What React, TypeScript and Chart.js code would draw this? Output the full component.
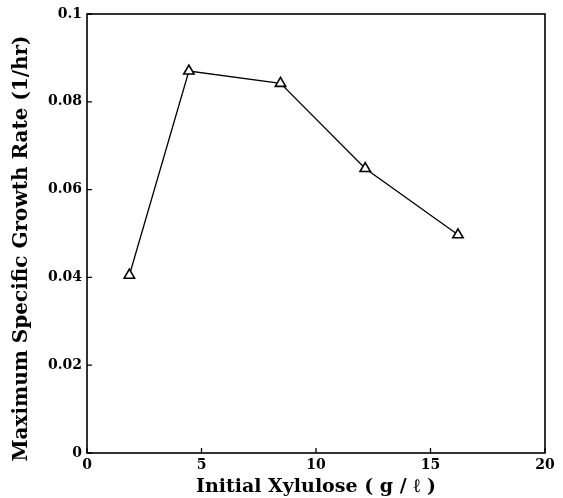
import React, { useEffect, useRef } from "react";
import { Chart, registerables } from "chart.js";

Chart.register(...registerables);

const xylulose = [1.85, 4.45, 8.45, 12.15, 16.2];
const growthRate = [0.0405, 0.087, 0.0842, 0.0648, 0.0497];
const xTickValues = [0, 5, 10, 15, 20];
const yTickValues = [0, 0.02, 0.04, 0.06, 0.08, 0.1];
const yTickLabels = ["0", "0.02", "0.04", "0.06", "0.08", "0.1"];
const xTitle = "Initial Xylulose ( g / ℓ )";
const yTitle = "Maximum Specific Growth Rate (1/hr)";

const FONT = "'DejaVu Serif', 'Liberation Serif', serif";

const framePlugin = {
  id: "frameAndTicks",
  afterDatasetsDraw(chart: any) {
    const { ctx, chartArea, scales } = chart;
    const { left, right, top, bottom } = chartArea;
    ctx.save();
    ctx.strokeStyle = "#000";
    ctx.lineWidth = 1.6;
    ctx.strokeRect(left, top, right - left, bottom - top);
    ctx.lineWidth = 1.3;
    ctx.beginPath();
    xTickValues.forEach((v) => {
      const px = scales.x.getPixelForValue(v);
      ctx.moveTo(px, bottom);
      ctx.lineTo(px, bottom - 5);
    });
    yTickValues.forEach((v) => {
      const py = scales.y.getPixelForValue(v);
      ctx.moveTo(left, py);
      ctx.lineTo(left + 5, py);
    });
    ctx.stroke();
    // y-axis title, drawn rotated slightly below the plot centre as in the reference
    const cy = (top + bottom) / 2 + 15;
    ctx.translate(22, cy);
    ctx.rotate(-Math.PI / 2);
    ctx.fillStyle = "#000";
    ctx.font = `bold 20px ${FONT}`;
    ctx.textAlign = "center";
    ctx.textBaseline = "middle";
    ctx.fillText(yTitle, 0, 0);
    ctx.restore();
  },
};

export default function App() {
  const ref = useRef<HTMLCanvasElement | null>(null);

  useEffect(() => {
    if (!ref.current) return;
    const chart = new Chart(ref.current, {
      type: "line",
      data: {
        datasets: [
          {
            data: xylulose.map((x, i) => ({ x, y: growthRate[i] })),
            borderColor: "#000",
            borderWidth: 1.3,
            pointStyle: "triangle",
            pointRadius: 6,
            pointBorderWidth: 1.6,
            pointBorderColor: "#000",
            pointBackgroundColor: "#fff",
            tension: 0,
            fill: false,
          },
        ],
      },
      options: {
        animation: false,
        responsive: false,
        maintainAspectRatio: false,
        layout: { padding: { left: 0, right: 18, top: 14, bottom: 0 } },
        plugins: {
          legend: { display: false },
          tooltip: { enabled: false },
        },
        scales: {
          x: {
            type: "linear",
            min: 0,
            max: 20,
            afterBuildTicks: (s: any) => {
              s.ticks = xTickValues.map((v) => ({ value: v }));
            },
            afterFit: (s: any) => {
              s.height = 45;
            },
            grid: { display: false, drawTicks: false },
            border: { display: false },
            ticks: {
              color: "#000",
              padding: 4,
              maxRotation: 0,
              font: { family: FONT, size: 14, weight: "bold" },
            },
            title: {
              display: true,
              text: xTitle,
              color: "#000",
              padding: { top: 0, bottom: 0 },
              font: { family: FONT, size: 19, weight: "bold" },
            },
          },
          y: {
            type: "linear",
            min: 0,
            max: 0.1,
            afterBuildTicks: (s: any) => {
              s.ticks = yTickValues.map((v) => ({ value: v }));
            },
            afterFit: (s: any) => {
              s.width = 87;
            },
            grid: { display: false, drawTicks: false },
            border: { display: false },
            ticks: {
              color: "#000",
              padding: 5,
              callback: (_v: any, i: number) => yTickLabels[i],
              font: { family: FONT, size: 14, weight: "bold" },
            },
            title: { display: false },
          },
        },
      },
      plugins: [framePlugin],
    });
    return () => chart.destroy();
  }, []);

  return (
    <div style={{ position: "absolute", left: 0, top: 0, width: 563, height: 498, background: "#fff" }}>
      <canvas ref={ref} width={563} height={498} style={{ width: 563, height: 498 }} />
    </div>
  );
}
